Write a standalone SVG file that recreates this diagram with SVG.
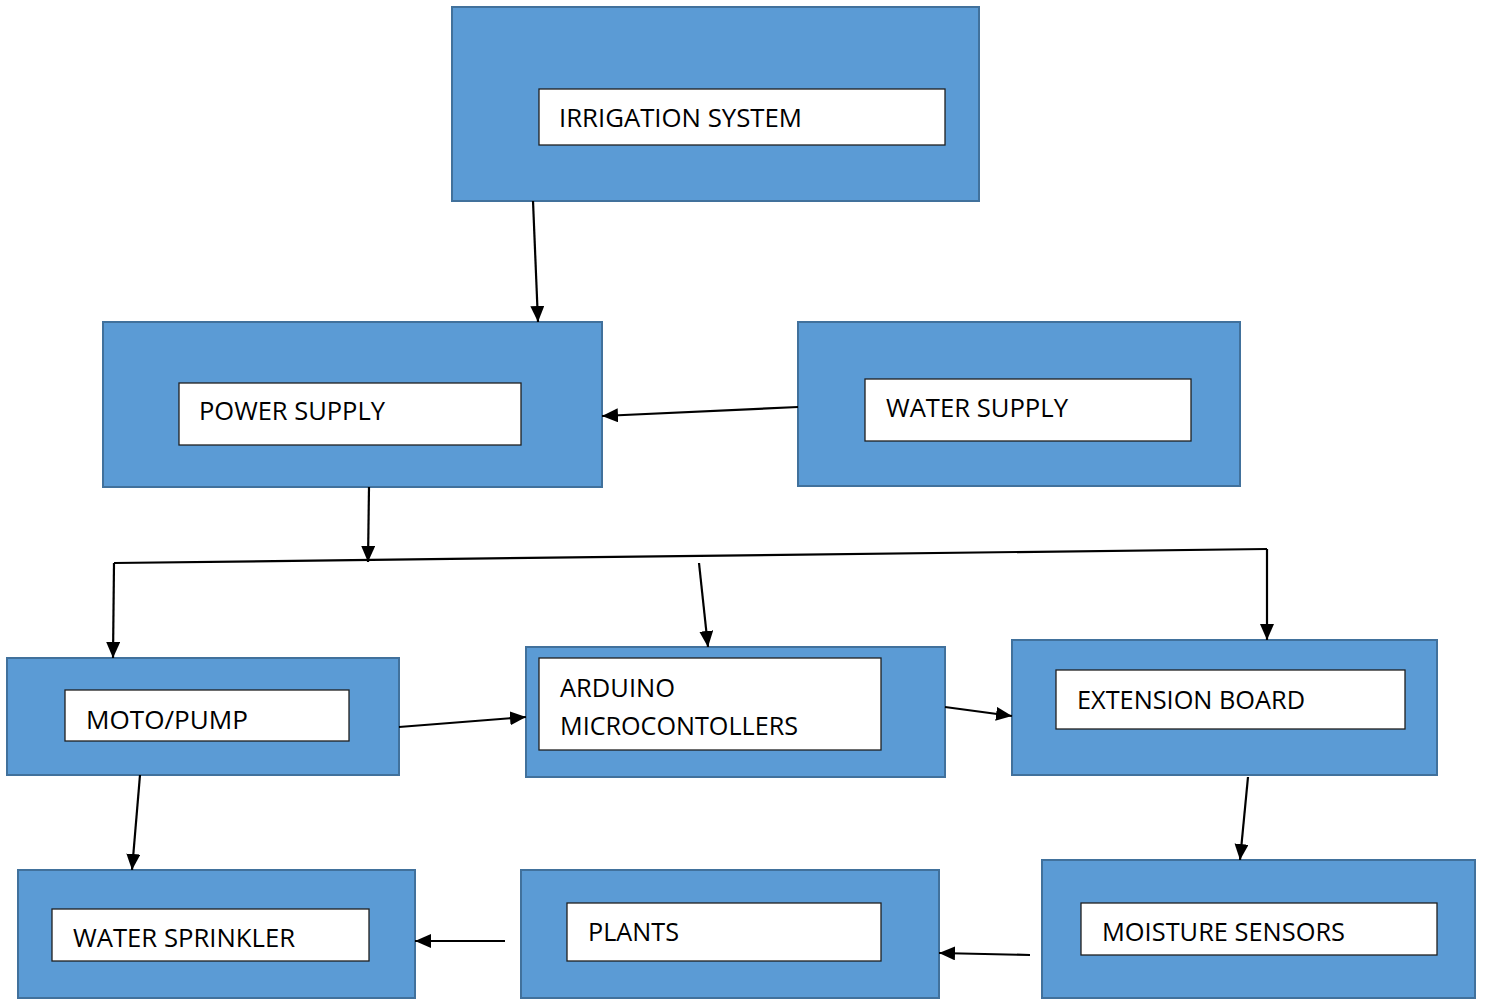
<svg xmlns="http://www.w3.org/2000/svg" width="1486" height="1000" viewBox="0 0 1486 1000">
<defs>
<style>
.outer{fill:#5B9BD5;stroke:#41719C;stroke-width:2}
.inner{fill:#FFFFFF;stroke:#1F1F1F;stroke-width:1.3}
.lbl{font-family:"Open Sans","Liberation Sans",sans-serif;font-size:25px;fill:#000}
.conn{stroke:#000;stroke-width:2.2;fill:none}
.arr{marker-end:url(#ah)}
</style>
<marker id="ah" markerUnits="userSpaceOnUse" markerWidth="18" markerHeight="16" refX="16" refY="7" orient="auto">
<path d="M0,0 L16,7 L0,14 z" fill="#000"/>
</marker>
</defs>
<rect width="1486" height="1000" fill="#FFFFFF"/>
<g id="irrigation">
<rect class="outer" x="452" y="7" width="527" height="194"/>
<rect class="inner" x="539" y="89" width="406" height="56"/>
<text class="lbl" x="559" y="127" textLength="243" lengthAdjust="spacingAndGlyphs">IRRIGATION SYSTEM</text>
</g>
<g id="power">
<rect class="outer" x="103" y="322" width="499" height="165"/>
<rect class="inner" x="179" y="383" width="342" height="62"/>
<text class="lbl" x="199" y="420" textLength="186" lengthAdjust="spacingAndGlyphs">POWER SUPPLY</text>
</g>
<g id="water">
<rect class="outer" x="798" y="322" width="442" height="164"/>
<rect class="inner" x="865" y="379" width="326" height="62"/>
<text class="lbl" x="886" y="417" textLength="182" lengthAdjust="spacingAndGlyphs">WATER SUPPLY</text>
</g>
<g id="pump">
<rect class="outer" x="7" y="658" width="392" height="117"/>
<rect class="inner" x="65" y="690" width="284" height="51"/>
<text class="lbl" x="86" y="729" textLength="162" lengthAdjust="spacingAndGlyphs">MOTO/PUMP</text>
</g>
<g id="arduino">
<rect class="outer" x="526" y="647" width="419" height="130"/>
<rect class="inner" x="539" y="658" width="342" height="92"/>
<text class="lbl" x="560" y="697" textLength="115" lengthAdjust="spacingAndGlyphs">ARDUINO</text>
<text class="lbl" x="560" y="735" textLength="238" lengthAdjust="spacingAndGlyphs">MICROCONTOLLERS</text>
</g>
<g id="extension">
<rect class="outer" x="1012" y="640" width="425" height="135"/>
<rect class="inner" x="1056" y="670" width="349" height="59"/>
<text class="lbl" x="1077" y="709" textLength="228" lengthAdjust="spacingAndGlyphs">EXTENSION BOARD</text>
</g>
<g id="moisture">
<rect class="outer" x="1042" y="860" width="433" height="138"/>
<rect class="inner" x="1081" y="903" width="356" height="52"/>
<text class="lbl" x="1102" y="941" textLength="243" lengthAdjust="spacingAndGlyphs">MOISTURE SENSORS</text>
</g>
<g id="plants">
<rect class="outer" x="521" y="870" width="418" height="128"/>
<rect class="inner" x="567" y="903" width="314" height="58"/>
<text class="lbl" x="588" y="941" textLength="91" lengthAdjust="spacingAndGlyphs">PLANTS</text>
</g>
<g id="sprinkler">
<rect class="outer" x="18" y="870" width="397" height="128"/>
<rect class="inner" x="52" y="909" width="317" height="52"/>
<text class="lbl" x="73" y="947" textLength="222" lengthAdjust="spacingAndGlyphs">WATER SPRINKLER</text>
</g>
<g id="connectors">
<line class="conn arr" x1="533" y1="201" x2="538" y2="322"/>
<line class="conn arr" x1="798" y1="407" x2="602" y2="416"/>
<line class="conn arr" x1="369" y1="487" x2="368" y2="562"/>
<line class="conn" x1="114" y1="563" x2="1267" y2="549"/>
<line class="conn arr" x1="114" y1="563" x2="113" y2="658"/>
<line class="conn arr" x1="1267" y1="549" x2="1267" y2="640"/>
<line class="conn arr" x1="699" y1="563" x2="708" y2="647"/>
<line class="conn arr" x1="399" y1="727" x2="526" y2="717"/>
<line class="conn arr" x1="945" y1="707" x2="1012" y2="716"/>
<line class="conn arr" x1="140" y1="775" x2="132" y2="870"/>
<line class="conn arr" x1="1248" y1="777" x2="1240" y2="860"/>
<line class="conn arr" x1="1030" y1="955" x2="939" y2="953"/>
<line class="conn arr" x1="505" y1="941" x2="415" y2="941"/>
</g>
</svg>
